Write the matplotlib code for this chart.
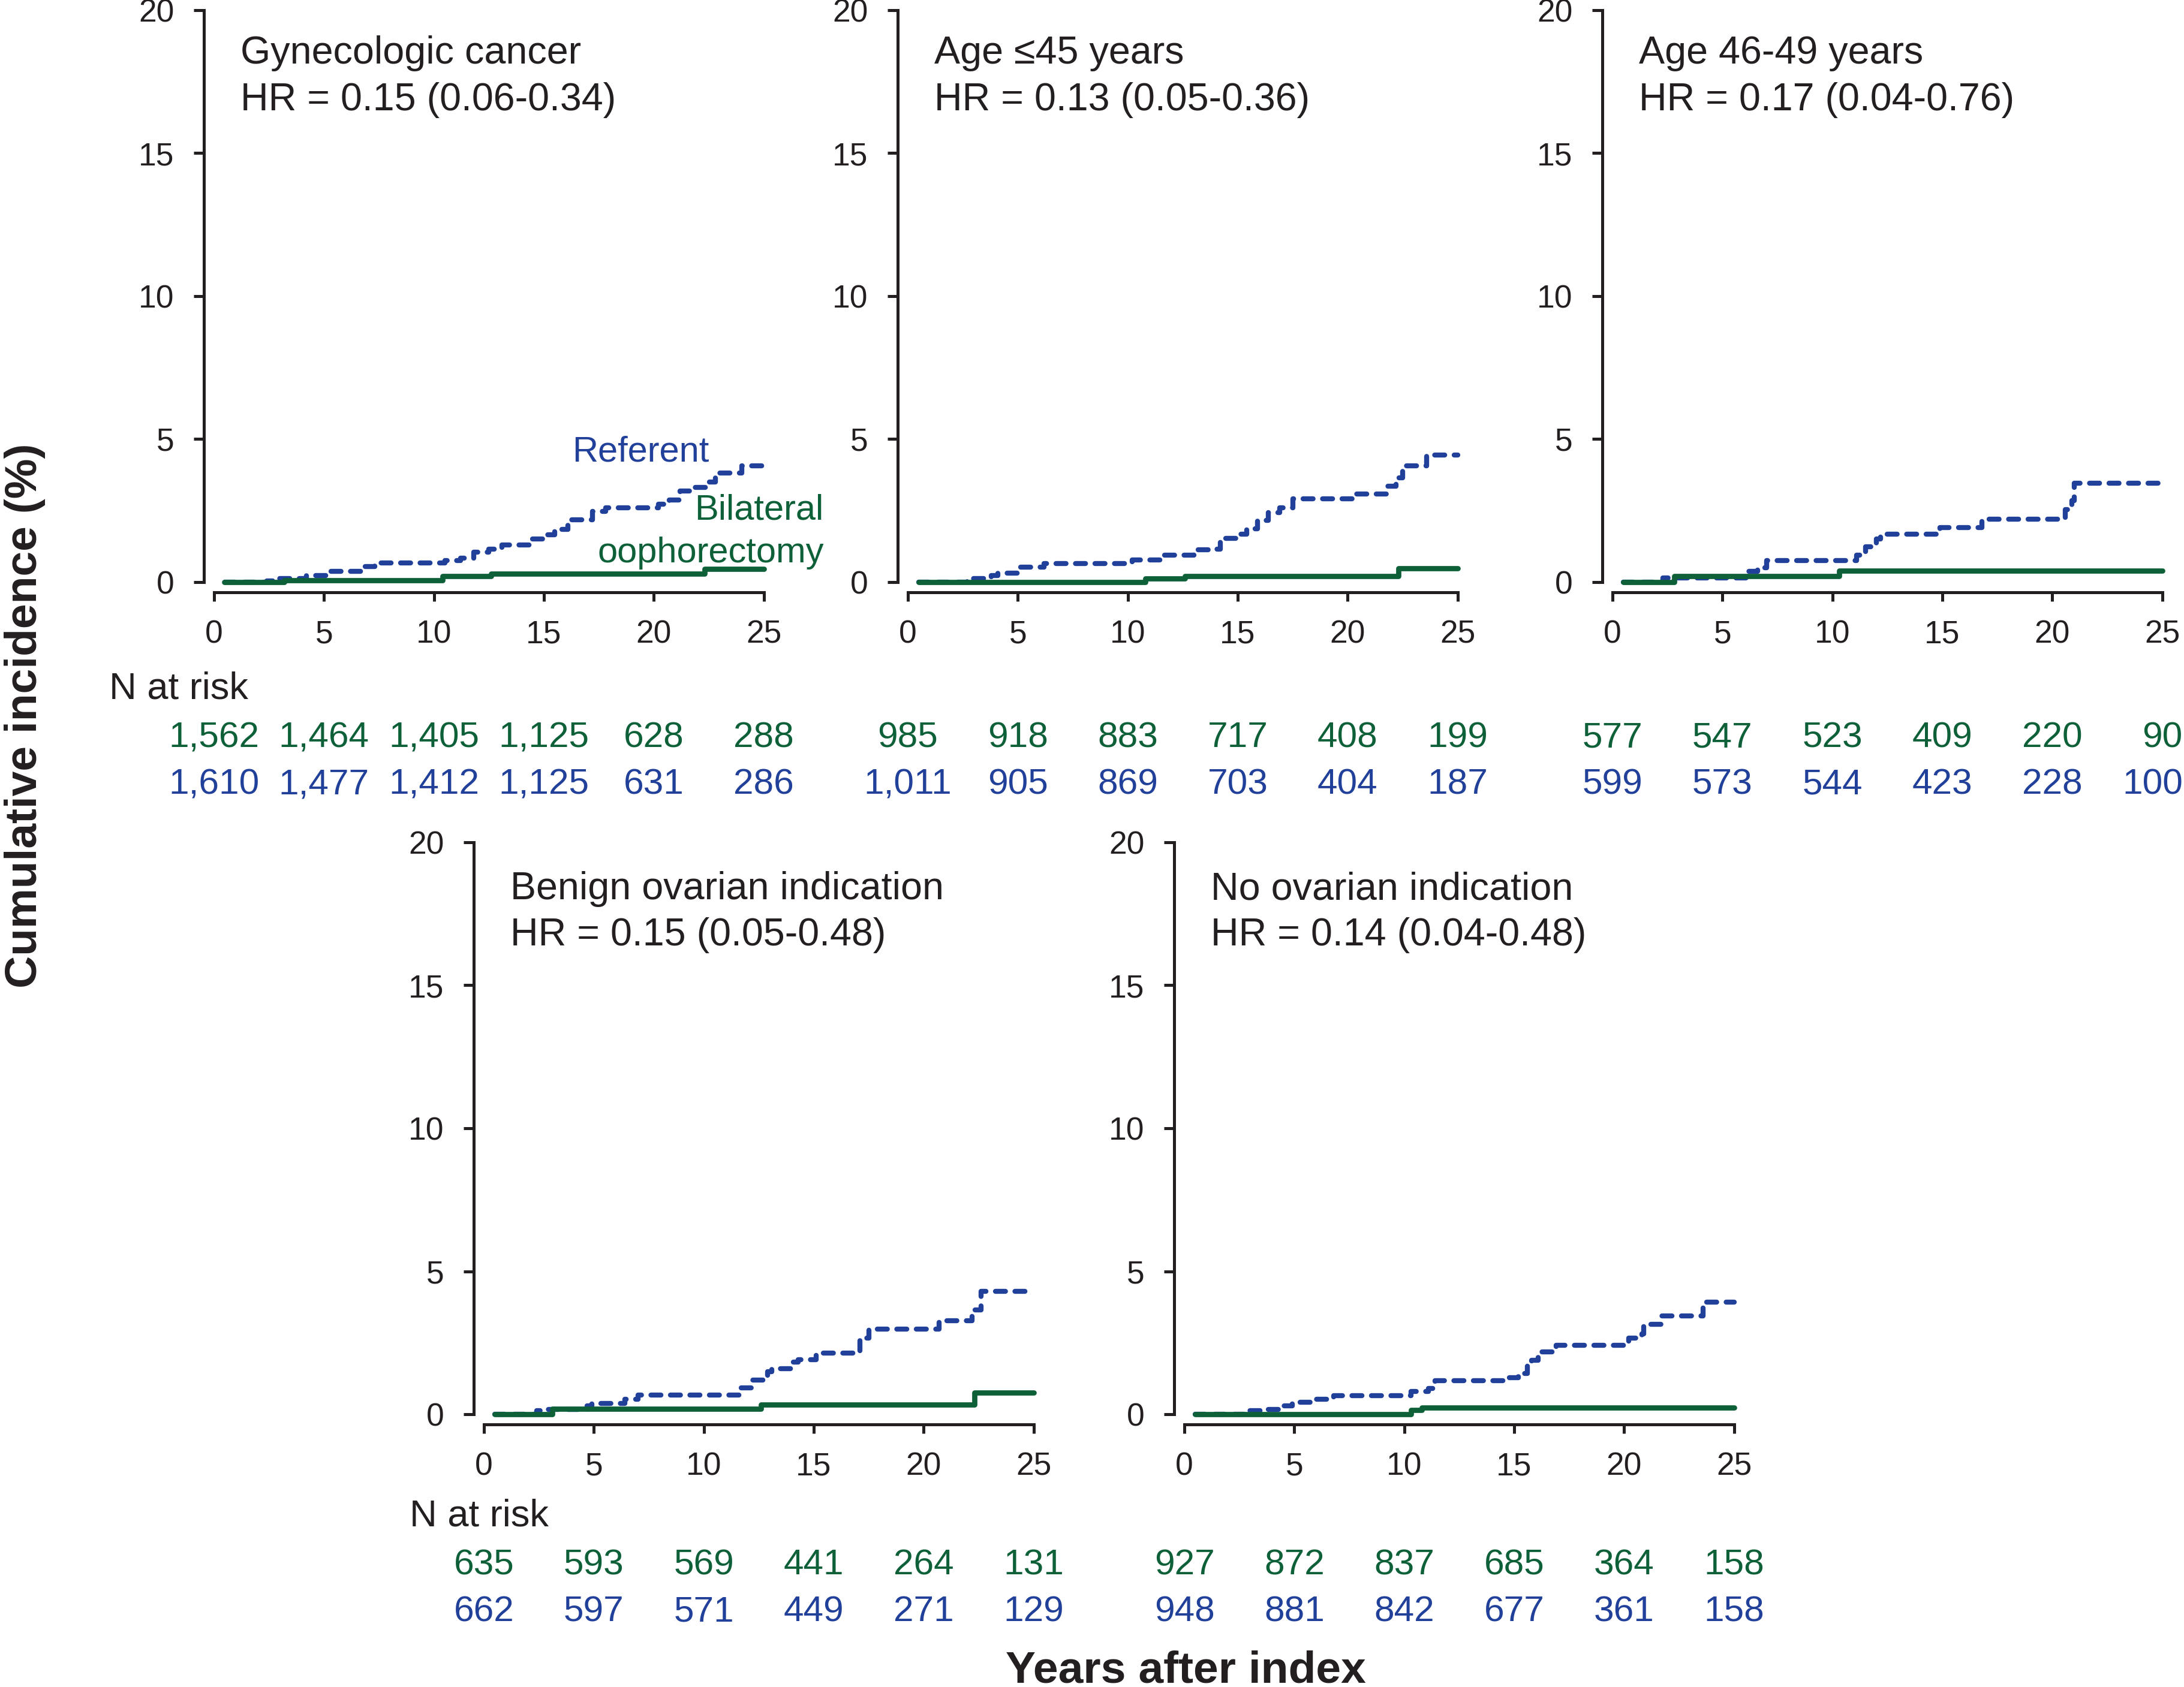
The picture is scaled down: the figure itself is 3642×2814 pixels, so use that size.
import matplotlib
matplotlib.use("Agg")
import matplotlib.pyplot as plt
from matplotlib.transforms import blended_transform_factory

plt.rcParams['font.family'] = ['Liberation Sans', 'DejaVu Sans']

BLUE = '#21409a'
GREEN = '#0e6039'
INK = '#231f20'

titles = ["Gynecologic cancer", "Age \u226445 years", "Age 46-49 years",
          "Benign ovarian indication", "No ovarian indication"]
hr_labels = ["HR = 0.15 (0.06-0.34)", "HR = 0.13 (0.05-0.36)", "HR = 0.17 (0.04-0.76)",
             "HR = 0.15 (0.05-0.48)", "HR = 0.14 (0.04-0.48)"]

# cumulative incidence (%) step curves
gyn_ref_t = [0.5, 2.4, 2.9, 4.2, 5.2, 6.7, 7.3, 10.5, 11.2, 11.8, 12.5, 13.1, 14.4, 15.0, 15.5,
             16.1, 17.2, 17.8, 20.2, 20.7, 21.2, 21.8, 22.4, 22.8, 24.0, 25.0]
gyn_ref_v = [0, 0.05, 0.12, 0.24, 0.38, 0.54, 0.67, 0.75, 0.83, 1.04, 1.16, 1.30, 1.51, 1.65, 1.84,
             2.17, 2.48, 2.59, 2.73, 2.87, 3.18, 3.32, 3.51, 3.81, 4.07, 4.07]
gyn_bo_t = [0.45, 3.2, 10.4, 12.6, 22.3, 25.0]
gyn_bo_v = [0, 0.07, 0.21, 0.29, 0.47, 0.47]

age45_ref_t = [0.5, 2.7, 3.6, 3.8, 4.1, 5.0, 6.2, 10.2, 11.6, 13.0, 13.9, 14.2, 15.1, 15.4, 15.9,
               16.4, 16.9, 17.5, 20.2, 21.8, 22.2, 22.5, 23.6, 25.0]
age45_ref_v = [0, 0.12, 0.14, 0.24, 0.31, 0.52, 0.64, 0.78, 0.94, 1.13, 1.15, 1.53, 1.68, 1.87, 2.15,
               2.43, 2.59, 2.92, 3.09, 3.36, 3.64, 4.07, 4.45, 4.45]
age45_bo_t = [0.5, 10.8, 12.6, 22.3, 25.0]
age45_bo_v = [0, 0.12, 0.22, 0.48, 0.48]

age4649_ref_t = [0.5, 2.3, 6.1, 6.6, 7.0, 11.1, 11.5, 12.0, 12.2, 14.9, 16.8, 20.6, 20.9, 21.0, 25.0]
age4649_ref_v = [0, 0.14, 0.38, 0.50, 0.75, 0.94, 1.23, 1.50, 1.68, 1.90, 2.20, 2.53, 2.85, 3.45, 3.45]
age4649_bo_t = [0.5, 2.8, 10.3, 25.0]
age4649_bo_v = [0, 0.22, 0.40, 0.40]

benign_ref_t = [0.5, 2.4, 2.8, 4.7, 4.9, 6.4, 7.0, 11.7, 12.2, 12.8, 12.9, 13.1, 14.0, 14.3, 15.1,
                17.1, 17.5, 20.7, 22.2, 22.6, 25.0]
benign_ref_v = [0, 0.12, 0.17, 0.29, 0.38, 0.53, 0.67, 0.92, 1.20, 1.31, 1.48, 1.60, 1.83, 1.90, 2.13,
                2.66, 2.98, 3.28, 3.64, 4.29, 4.29]
benign_bo_t = [0.5, 3.1, 12.6, 22.3, 25.0]
benign_bo_v = [0, 0.19, 0.34, 0.76, 0.76]

noind_ref_t = [0.5, 2.8, 3.7, 4.3, 4.9, 5.9, 6.8, 10.3, 11.1, 11.4, 14.5, 15.2, 15.6, 15.8, 16.1,
               16.9, 20.2, 20.8, 20.9, 21.7, 23.6, 25.0]
noind_ref_v = [0, 0.12, 0.17, 0.30, 0.42, 0.52, 0.64, 0.79, 0.91, 1.17, 1.28, 1.43, 1.75, 1.89, 2.17,
               2.42, 2.66, 2.80, 3.15, 3.43, 3.91, 3.91]
noind_bo_t = [0.5, 10.3, 10.8, 25.0]
noind_bo_v = [0, 0.14, 0.24, 0.24]

risk_years = [0, 5, 10, 15, 20, 25]
gyn_risk_bo = ["1,562", "1,464", "1,405", "1,125", "628", "288"]
gyn_risk_ref = ["1,610", "1,477", "1,412", "1,125", "631", "286"]
age45_risk_bo = ["985", "918", "883", "717", "408", "199"]
age45_risk_ref = ["1,011", "905", "869", "703", "404", "187"]
age4649_risk_bo = ["577", "547", "523", "409", "220", "90"]
age4649_risk_ref = ["599", "573", "544", "423", "228", "100"]
benign_risk_bo = ["635", "593", "569", "441", "264", "131"]
benign_risk_ref = ["662", "597", "571", "449", "271", "129"]
noind_risk_bo = ["927", "872", "837", "685", "364", "158"]
noind_risk_ref = ["948", "881", "842", "677", "361", "158"]

panels = [
    (gyn_ref_t, gyn_ref_v, gyn_bo_t, gyn_bo_v, gyn_risk_bo, gyn_risk_ref),
    (age45_ref_t, age45_ref_v, age45_bo_t, age45_bo_v, age45_risk_bo, age45_risk_ref),
    (age4649_ref_t, age4649_ref_v, age4649_bo_t, age4649_bo_v, age4649_risk_bo, age4649_risk_ref),
    (benign_ref_t, benign_ref_v, benign_bo_t, benign_bo_v, benign_risk_bo, benign_risk_ref),
    (noind_ref_t, noind_ref_v, noind_bo_t, noind_bo_v, noind_risk_bo, noind_risk_ref),
]

# layout in pixels of the 3642x2814 output
W, H = 3642, 2814
x_left = [357, 1514, 2689, 807, 1975]
y_zero = [971, 971, 971, 2359, 2359]
ax_w, ax_h = 916.7, 954
row_text_y = [(1166, 1246, 1324), (2545, 2626, 2704)]
title_y = [(18.13, 16.5), (18.0, 16.4)]
nrisk_x = {0: 182, 3: 683}

fig = plt.figure(figsize=(W / 300, H / 300), dpi=300)

for i, (rt, rv, bt, bv, risk_bo, risk_ref) in enumerate(panels):
    ax = fig.add_axes([x_left[i] / W, 1 - y_zero[i] / H, ax_w / W, ax_h / H])
    ax.step(rt, rv, where='post', color=BLUE, lw=2.0, dashes=(2.0, 1.9),
            dash_capstyle='round', clip_on=False, zorder=3)
    ax.step(bt, bv, where='post', color=GREEN, lw=2.1, solid_capstyle='round',
            clip_on=False, zorder=4)
    ax.set_xlim(0, 25)
    ax.set_ylim(0, 20)
    ax.set_xticks([0, 5, 10, 15, 20, 25])
    ax.set_yticks([0, 5, 10, 15, 20])
    for side in ['top', 'right']:
        ax.spines[side].set_visible(False)
    for side in ['left', 'bottom']:
        ax.spines[side].set_position(('outward', 4))
        ax.spines[side].set_linewidth(1.2)
        ax.spines[side].set_color(INK)
    ax.tick_params(axis='x', length=3.6, width=1.2, pad=7.5, labelsize=12.8, colors=INK)
    ax.tick_params(axis='y', length=4, width=1.2, pad=8, labelsize=12.8, colors=INK)
    ax.patch.set_visible(False)

    row = 0 if i < 3 else 1
    ax.text(1.2, title_y[row][0], titles[i], fontsize=15.5, color=INK, va='baseline')
    ax.text(1.2, title_y[row][1], hr_labels[i], fontsize=15.5, color=INK, va='baseline')

    ny, gy, by = row_text_y[row]
    tr = blended_transform_factory(ax.transData, fig.transFigure)
    for yr, nb, nr in zip(risk_years, risk_bo, risk_ref):
        xpos, ha = yr, 'center'
        # the last column of the right-hand panel sits flush with the figure edge
        if i == 2 and yr == 25:
            xpos, ha = 25.93, 'right'
        ax.text(xpos, 1 - gy / H, nb, transform=tr, ha=ha, va='baseline',
                fontsize=14.5, color=GREEN)
        ax.text(xpos, 1 - by / H, nr, transform=tr, ha=ha, va='baseline',
                fontsize=14.5, color=BLUE)
    if i in nrisk_x:
        fig.text(nrisk_x[i] / W, 1 - ny / H, "N at risk", fontsize=15.2, color=INK,
                 va='baseline', ha='left')

    if i == 0:
        ax.text(22.5, 4.23, "Referent", ha='right', va='baseline', fontsize=14.3, color=BLUE)
        ax.text(27.73, 2.20, "Bilateral", ha='right', va='baseline', fontsize=14.3, color=GREEN)
        ax.text(27.73, 0.69, "oophorectomy", ha='right', va='baseline', fontsize=14.3, color=GREEN)

fig.text(42 / W, 1 - 1194 / H, "Cumulative incidence (%)", rotation=90, ha='center',
         va='center', fontsize=18, fontweight='bold', color=INK)
fig.text(1977 / W, 1 - 2806 / H, "Years after index", ha='center', va='baseline',
         fontsize=18, fontweight='bold', color=INK)

fig.savefig("out.png", dpi=300)
